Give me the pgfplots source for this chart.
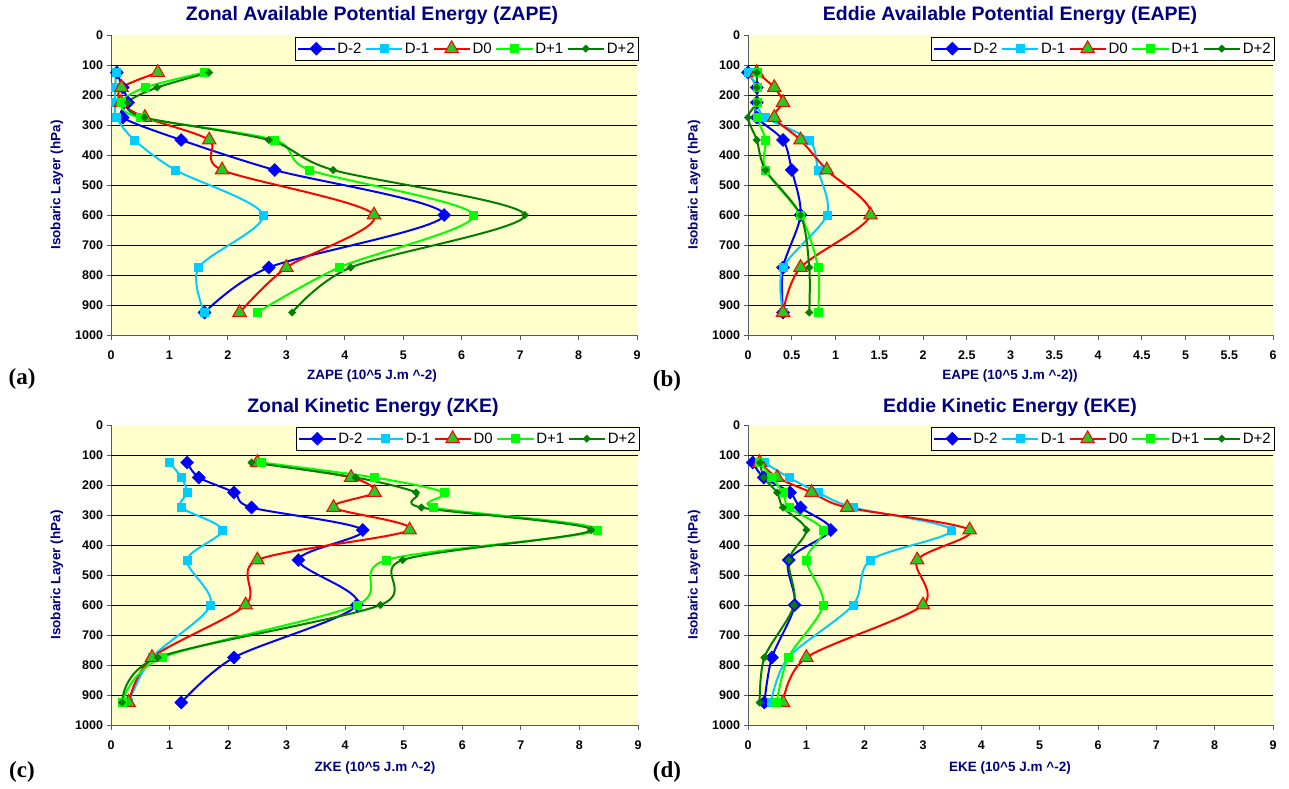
\documentclass[border=0pt]{standalone}
\usepackage{fontspec}
\setmainfont{Liberation Sans}
\newfontfamily\letterfont{Liberation Serif}
\usepackage{pgfplots}
\usepackage{pgfplotstable}
\pgfplotsset{compat=1.18}

\definecolor{navy}{HTML}{000080}
\definecolor{cDm2}{HTML}{0000FF}
\definecolor{cDm1}{HTML}{00CCFF}
\definecolor{cDz}{HTML}{FF0000}
\definecolor{cDzfill}{HTML}{22CC22}
\definecolor{cDp1}{HTML}{00FF00}
\definecolor{cDp2}{HTML}{008000}
\definecolor{plotbg}{HTML}{FFFFCC}

% pressure level (hPa) and energy of each day, in 10^5 J m^-2
\pgfplotstableread{
p    dm2   dm1   dz    dp1   dp2
125  0.10  0.09  0.80  1.60  1.68
175  0.20  0.07  0.18  0.58  0.79
225  0.29  0.07  0.17  0.18  0.29
275  0.20  0.09  0.58  0.50  0.57
350  1.20  0.40  1.68  2.80  2.70
450  2.80  1.10  1.90  3.40  3.80
600  5.70  2.60  4.50  6.20  7.08
775  2.70  1.50  3.00  3.90  4.10
925  1.60  1.60  2.20  2.50  3.10
}\zape
\pgfplotstableread{
p    dm2   dm1   dz    dp1   dp2
125  0.00  0.00  0.10  0.10  0.10
175  0.10  0.10  0.30  0.10  0.10
225  0.10  0.10  0.40  0.10  0.10
275  0.10  0.20  0.30  0.10  0.00
350  0.40  0.70  0.60  0.20  0.10
450  0.50  0.80  0.90  0.20  0.20
600  0.60  0.90  1.40  0.60  0.60
775  0.40  0.40  0.60  0.80  0.70
925  0.40  0.40  0.40  0.80  0.70
}\eape
\pgfplotstableread{
p    dm2   dm1   dz    dp1   dp2
125  1.30  1.00  2.50  2.57  2.40
175  1.50  1.20  4.10  4.50  4.18
225  2.10  1.30  4.50  5.69  5.21
275  2.40  1.20  3.80  5.51  5.30
350  4.30  1.90  5.10  8.31  8.20
450  3.20  1.30  2.50  4.70  4.98
600  4.20  1.70  2.30  4.20  4.60
775  2.10  0.70  0.70  0.88  0.80
925  1.20  0.30  0.30  0.19  0.19
}\zke
\pgfplotstableread{
p    dm2   dm1   dz    dp1   dp2
125  0.08  0.28  0.20  0.20  0.21
175  0.27  0.70  0.50  0.40  0.27
225  0.72  1.20  1.09  0.60  0.50
275  0.90  1.80  1.70  0.70  0.60
350  1.42  3.49  3.80  1.29  1.00
450  0.70  2.10  2.90  1.00  0.70
600  0.80  1.80  3.00  1.29  0.79
775  0.41  0.69  1.00  0.69  0.28
925  0.28  0.39  0.60  0.49  0.20
}\eke

\pgfplotsset{
  energy/.style={
    scale only axis, height=300pt,
    y dir=reverse, ymin=0, ymax=1000, ytick={0,100,...,1000},
    xmin=0,
    axis background/.style={fill=plotbg},
    axis lines*=left,
    axis line style={draw=black!65, line width=0.8pt},
    tick align=outside, major tick length=4.5pt,
    tick style={draw=black!65, line width=0.8pt},
    extra y ticks={100,200,...,900},
    extra y tick labels={},
    extra y tick style={ymajorgrids=true, major tick length=0pt},
    major grid style={black, line width=0.8pt},
    /pgf/number format/assume math mode=true,
    /pgf/number format/1000 sep={},
    ticklabel style={font=\fontsize{12.5}{13}\selectfont\bfseries},
    xticklabel shift=7.5pt,
    clip=false,
    legend columns=5,
    legend style={at={(1.004,0.994)}, anchor=north east, draw=black, fill=white,
      line width=0.8pt, font=\fontsize{15}{16}\selectfont, inner xsep=2pt, inner ysep=3.5pt,
      /tikz/every even column/.append style={column sep=1.5pt},
      /tikz/every odd column/.append style={column sep=0pt}},
    legend image code/.code={\draw[mark repeat=2,mark phase=2,#1]
      plot coordinates {(0pt,0pt) (18pt,0pt) (36pt,0pt)};},
    every axis plot/.append style={smooth, tension=0.5, line width=2pt},
  },
  sDm2/.style={color=cDm2, mark=square*, mark size=4.6pt, mark options={fill=cDm2, rotate=45, line width=0.5pt}},
  sDm1/.style={color=cDm1, mark=square*, mark size=4pt, mark options={fill=cDm1, line width=0.5pt}},
  sDz/.style={color=cDz, mark=triangle*, mark size=7.8pt, mark options={fill=cDzfill, draw=cDz, line width=1pt}},
  sDp1/.style={color=cDp1, mark=square*, mark size=4pt, mark options={fill=cDp1, line width=0.5pt}},
  sDp2/.style={color=cDp2, mark=square*, mark size=2.6pt, mark options={fill=cDp2, rotate=45, line width=0.5pt}},
}

\newcommand{\fivecurves}[1]{%
  \addplot[sDm2] table[x=dm2, y=p] {#1}; \addlegendentry{D-2}
  \addplot[sDm1] table[x=dm1, y=p] {#1}; \addlegendentry{D-1}
  \addplot[sDz]  table[x=dz,  y=p] {#1}; \addlegendentry{D0}
  \addplot[sDp1] table[x=dp1, y=p] {#1}; \addlegendentry{D+1}
  \addplot[sDp2] table[x=dp2, y=p] {#1}; \addlegendentry{D+2}
}

\tikzset{
  ptitle/.style={font=\fontsize{19.5}{21}\selectfont\bfseries, text=navy, inner sep=0pt},
  plabel/.style={font=\fontsize{13.5}{15}\selectfont\bfseries, text=navy, inner sep=0pt},
  pletter/.style={font=\letterfont\fontsize{23}{25}\selectfont\bfseries, inner sep=0pt},
}

\begin{document}
\begin{tikzpicture}
\path[use as bounding box] (0pt,0pt) rectangle (1289pt,788pt);

% (a) zonal available potential energy
\begin{axis}[energy, at={(111pt,453pt)}, anchor=south west, width=526pt,
  xmax=9, xtick={0,1,...,9}]
  \fivecurves{\zape}
\end{axis}

% (b) eddy available potential energy
\begin{axis}[energy, at={(748pt,453pt)}, anchor=south west, width=525pt,
  xmax=6, xtick={0,0.5,...,6}]
  \fivecurves{\eape}
\end{axis}

% (c) zonal kinetic energy
\begin{axis}[energy, at={(111pt,63pt)}, anchor=south west, width=527pt,
  xmax=9, xtick={0,1,...,9}]
  \fivecurves{\zke}
\end{axis}

% (d) eddy kinetic energy
\begin{axis}[energy, at={(748pt,63pt)}, anchor=south west, width=525pt,
  xmax=9, xtick={0,1,...,9}]
  \fivecurves{\eke}
\end{axis}

% titles
\node[ptitle] at (372pt,772pt) {Zonal Available Potential Energy (ZAPE)};
\node[ptitle] at (1010pt,772pt) {Eddie Available Potential Energy (EAPE)};
\node[ptitle] at (373pt,380pt) {Zonal Kinetic Energy (ZKE)};
\node[ptitle] at (1010pt,380pt) {Eddie Kinetic Energy (EKE)};

% axis titles
\node[plabel] at (372pt,412pt) {ZAPE (10\^{}5 J.m \^{}-2)};
\node[plabel] at (1010pt,412pt) {EAPE (10\^{}5 J.m \^{}-2))};
\node[plabel] at (375pt,20pt) {ZKE (10\^{}5 J.m \^{}-2)};
\node[plabel] at (1010pt,20pt) {EKE (10\^{}5 J.m \^{}-2)};
\foreach \xx/\yy in {57/603, 694/603, 57/213, 694/213}
  \node[plabel, rotate=90] at (\xx pt,\yy pt) {Isobaric Layer (hPa)};

% panel letters
\node[pletter] at (22pt,409pt) {(a)};
\node[pletter] at (667pt,407pt) {(b)};
\node[pletter] at (22pt,16pt) {(c)};
\node[pletter] at (667pt,16pt) {(d)};
\end{tikzpicture}
\end{document}
